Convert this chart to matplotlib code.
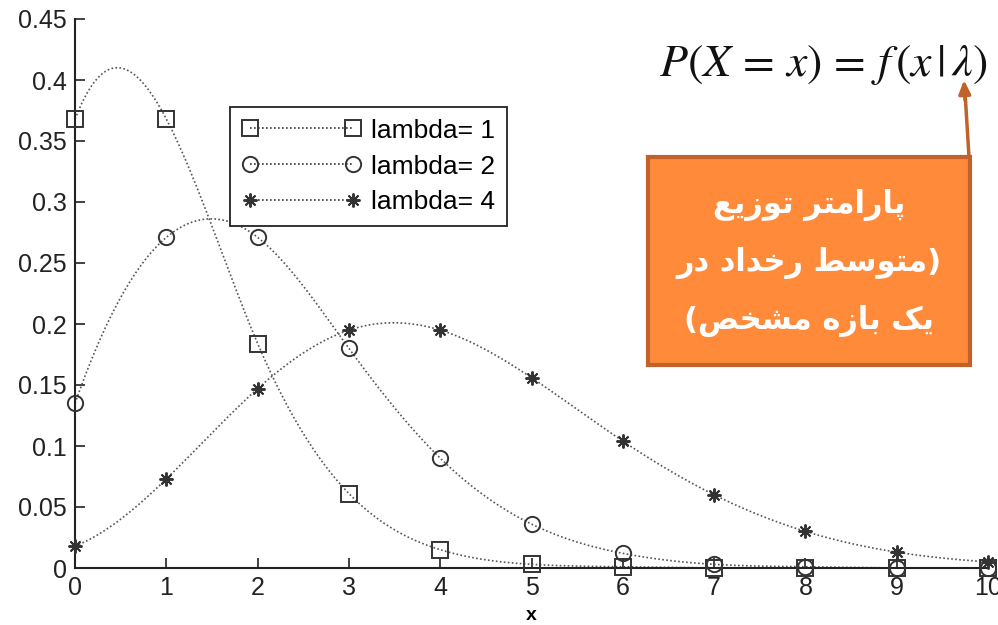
import numpy as np
import matplotlib
matplotlib.use("Agg")
import matplotlib.pyplot as plt
from matplotlib.patches import Rectangle

# poisson pmf values at x = 0..10
x = np.arange(0, 11)
p_lam1 = [0.368, 0.368, 0.184, 0.061, 0.015, 0.003, 0.001, 0.0, 0.0, 0.0, 0.0]
p_lam2 = [0.135, 0.271, 0.271, 0.180, 0.090, 0.036, 0.012, 0.003, 0.001, 0.0, 0.0]
p_lam4 = [0.018, 0.073, 0.147, 0.195, 0.195, 0.156, 0.104, 0.060, 0.030, 0.013, 0.005]
labels = ["lambda= 1", "lambda= 2", "lambda= 4"]
markers = ["s", "o", (8, 2, 0)]

box_lines = ["پارامتر توزیع", "(متوسط رخداد در", "یک بازه مشخص)"]
formula = r"$P(X\,=\,x)\,=\,f\,(x\,|\,\lambda)$"


def spline(xk, yk, xs):
    # not-a-knot cubic spline, same curve style as matlab's spline()
    xk = np.asarray(xk, float)
    yk = np.asarray(yk, float)
    n = len(xk)
    h = np.diff(xk)
    A = np.zeros((n, n))
    b = np.zeros(n)
    for i in range(1, n - 1):
        A[i, i - 1] = h[i - 1]
        A[i, i] = 2 * (h[i - 1] + h[i])
        A[i, i + 1] = h[i]
        b[i] = 3 * ((yk[i + 1] - yk[i]) / h[i] - (yk[i] - yk[i - 1]) / h[i - 1])
    A[0, 0], A[0, 1], A[0, 2] = h[1], -(h[0] + h[1]), h[0]
    A[-1, -3], A[-1, -2], A[-1, -1] = h[-1], -(h[-2] + h[-1]), h[-2]
    c = np.linalg.solve(A, b)
    bb = (yk[1:] - yk[:-1]) / h - h * (2 * c[:-1] + c[1:]) / 3
    d = (c[1:] - c[:-1]) / (3 * h)
    idx = np.clip(np.searchsorted(xk, xs) - 1, 0, n - 2)
    t = xs - xk[idx]
    return yk[idx] + bb[idx] * t + c[idx] * t ** 2 + d[idx] * t ** 3


# contextual forms for the persian letters used in the box
FORMS = {
    "ا": ("\uFE8D", "\uFE8E", None, None),
    "ب": ("\uFE8F", "\uFE90", "\uFE91", "\uFE92"),
    "ت": ("\uFE95", "\uFE96", "\uFE97", "\uFE98"),
    "خ": ("\uFEA5", "\uFEA6", "\uFEA7", "\uFEA8"),
    "د": ("\uFEA9", "\uFEAA", None, None),
    "ر": ("\uFEAD", "\uFEAE", None, None),
    "ز": ("\uFEAF", "\uFEB0", None, None),
    "س": ("\uFEB1", "\uFEB2", "\uFEB3", "\uFEB4"),
    "ش": ("\uFEB5", "\uFEB6", "\uFEB7", "\uFEB8"),
    "ص": ("\uFEB9", "\uFEBA", "\uFEBB", "\uFEBC"),
    "ط": ("\uFEC1", "\uFEC2", "\uFEC3", "\uFEC4"),
    "ع": ("\uFEC9", "\uFECA", "\uFECB", "\uFECC"),
    "م": ("\uFEE1", "\uFEE2", "\uFEE3", "\uFEE4"),
    "ه": ("\uFEE9", "\uFEEA", "\uFEEB", "\uFEEC"),
    "و": ("\uFEED", "\uFEEE", None, None),
    "پ": ("\uFB56", "\uFB57", "\uFB58", "\uFB59"),
    "ک": ("\uFB8E", "\uFB8F", "\uFB90", "\uFB91"),
    "ی": ("\uFBFC", "\uFBFD", "\uFBFE", "\uFBFF"),
}


def rtl(s):
    out = []
    for i, ch in enumerate(s):
        if ch not in FORMS:
            out.append(ch)
            continue
        prev = s[i - 1] if i > 0 else None
        nxt = s[i + 1] if i + 1 < len(s) else None
        jp = prev in FORMS and FORMS[prev][2] is not None
        jn = nxt in FORMS and FORMS[ch][2] is not None
        iso, fin, ini, med = FORMS[ch]
        if jp and jn:
            out.append(med)
        elif jp:
            out.append(fin)
        elif jn:
            out.append(ini)
        else:
            out.append(iso)
    swap = {"(": ")", ")": "("}
    return "".join(swap.get(c, c) for c in reversed(out))


plt.rcParams["font.family"] = ["Liberation Sans", "DejaVu Sans"]
plt.rcParams["mathtext.fontset"] = "stix"

fig = plt.figure(figsize=(9.98, 6.25), dpi=100)
ax = fig.add_axes([0.0752, 0.0912, 0.9148, 0.8784])

line_kw = dict(ls=(0, (1, 1.4)), color="#555555", lw=1.2)
xs = np.linspace(0, 10, 301)
handles = []
for ys, lab, m in zip([p_lam1, p_lam2, p_lam4], labels, markers):
    ax.plot(xs, spline(x, ys, xs), **line_kw)
    ms = 10 if m == markers[2] else 11
    mk = dict(marker=m, ms=ms, mfc="none", mec="#333333", mew=1.4)
    ax.plot(x, ys, ls="none", clip_on=False, zorder=3, **mk)
    # legend handle: marker + dotted line
    h, = ax.plot([], [], ls=(0, (1, 1.4)), color="#333333", lw=1.2, **mk)
    handles.append(h)

ax.set_xlim(0, 10)
ax.set_ylim(0, 0.45)
ax.set_xticks(np.arange(0, 11))
ax.set_yticks(np.arange(0, 0.451, 0.05))
ax.set_yticklabels(["0", "0.05", "0.1", "0.15", "0.2", "0.25", "0.3", "0.35", "0.4", "0.45"])
ax.tick_params(direction="in", length=7, width=1.2, labelsize=18, colors="#222222", pad=6)
ax.set_xlabel("x", fontsize=14, fontweight="bold", labelpad=5)
for s in ["top", "right"]:
    ax.spines[s].set_visible(False)
for s in ["left", "bottom"]:
    ax.spines[s].set_linewidth(1.5)
    ax.spines[s].set_color("#222222")

leg = ax.legend(handles, labels, loc="upper left", bbox_to_anchor=(0.170, 0.840),
                numpoints=2, fontsize=19, fancybox=False, framealpha=1,
                edgecolor="#222222", handlelength=4.5, handletextpad=0.4,
                borderpad=0.45, labelspacing=0.45, borderaxespad=0)
leg.get_frame().set_linewidth(1.3)

# formula and annotation box
fig.text(0.825, 0.896, formula, fontsize=33, ha="center", va="center", color="#111111")

orange = "#FF8A3A"
edge = "#C0622A"
fig.patches.append(Rectangle((648 / 998, 1 - 365 / 625), 322 / 998, 208 / 625,
                             transform=fig.transFigure, facecolor=orange,
                             edgecolor=edge, lw=3, zorder=5))
for i, line in enumerate(box_lines):
    fig.text(809 / 998, 1 - (205 + 58 * i) / 625, rtl(line), fontsize=22,
             fontweight="bold", color="white", ha="center", va="center",
             family=["DejaVu Sans"], zorder=6)

fig.add_artist(plt.Line2D([969 / 998, 965 / 998], [1 - 157 / 625, 1 - 92 / 625],
                          transform=fig.transFigure, color=edge, lw=2.5, zorder=6))
ax.annotate("", xy=(964 / 998, 1 - 80 / 625), xytext=(965 / 998, 1 - 100 / 625),
            xycoords="figure fraction", textcoords="figure fraction",
            arrowprops=dict(arrowstyle="-|>,head_length=0.8,head_width=0.35",
                            color=edge, lw=2.5, shrinkA=0, shrinkB=0), zorder=7)

fig.savefig("out.png", dpi=100)
